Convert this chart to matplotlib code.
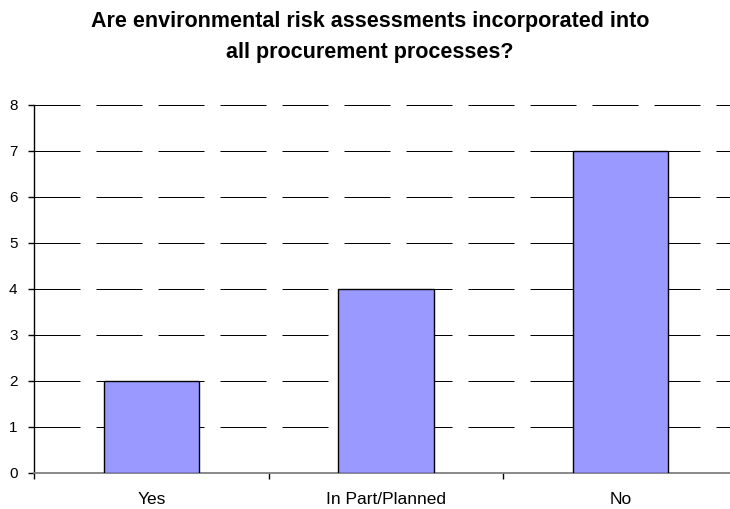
import matplotlib.pyplot as plt
import numpy as np

plt.rcParams['font.family'] = ['Liberation Sans', 'DejaVu Sans']

categories = ["Yes", "In Part/Planned", "No"]
counts = [2, 4, 7]
y_ticks = [0, 1, 2, 3, 4, 5, 6, 7, 8]

fig = plt.figure(figsize=(7.30, 5.09), dpi=100)
# the plot area runs a little past the right edge of the figure
ax = fig.add_axes([34 / 730, 1 - 473 / 509, 704 / 730, 368 / 509])

x = np.arange(len(categories))
ax.set_xlim(-0.5, len(categories) - 0.5)
ax.set_ylim(0, 8)

# dashed horizontal gridlines
px = 72 / 100
for y in y_ticks[1:]:
    ax.axhline(y, color='black', lw=px, dashes=(46, 16), zorder=1)

ax.bar(x, counts, width=0.405, color='#9999FF', edgecolor='black',
       linewidth=1.0, zorder=3)

ax.set_yticks(y_ticks)
ax.set_yticklabels([str(v) for v in y_ticks], fontsize=11)
ax.set_xticks(np.arange(-0.5, len(categories), 1.0))
ax.set_xticklabels([])
ax.set_xticks(x, minor=True)
ax.set_xticklabels(categories, minor=True, fontsize=12.5)
ax.tick_params(axis='x', which='major', length=4.3, width=1, color='black', direction='out')
ax.tick_params(axis='x', which='minor', length=0, pad=14)
ax.tick_params(axis='y', length=4.3, width=1, color='black', direction='out', pad=7.5)

for side in ['top', 'right']:
    ax.spines[side].set_visible(False)
ax.spines['left'].set_linewidth(1.0)
ax.spines['left'].set_color('black')
ax.spines['bottom'].set_linewidth(1.3)
ax.spines['bottom'].set_color('#808080')

fig.text(0.507, 1 - 58 / 509,
         "Are environmental risk assessments incorporated into\nall procurement processes?",
         ha='center', va='baseline', fontsize=15.5, fontweight='bold', linespacing=1.6)

fig.savefig("out.png", dpi=100)
